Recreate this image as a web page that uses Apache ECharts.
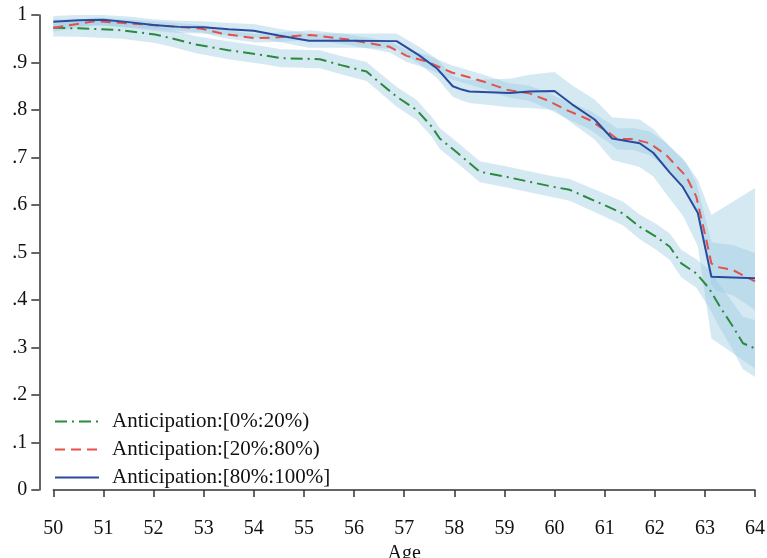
<!DOCTYPE html>
<html>
<head>
<meta charset="utf-8">
<script src="https://cdn.jsdelivr.net/npm/echarts@6/dist/echarts.min.js"></script>
<style>
  html, body { margin: 0; padding: 0; background: #fff; }
  #chart { width: 767px; height: 558px; }
</style>
</head>
<body>
<div id="chart"></div>
<script>
// Share still employed by age, by anticipation group, with confidence bands.

// Anticipation [0%:20%)
const lowAges = [50, 50.5, 51.36, 52.03, 52.36, 52.83, 53.49, 54.16, 54.55, 55.32, 55.72, 56.25, 56.45, 56.85, 57.25, 57.55, 57.71, 58.05, 58.51, 59.05, 59.94, 60.3, 60.84, 61.37, 61.7, 62.03, 62.3, 62.53, 62.83, 63.08, 63.3, 63.56, 63.76, 64];
const lowVals = [0.973, 0.972, 0.968, 0.959, 0.951, 0.938, 0.926, 0.916, 0.909, 0.907, 0.895, 0.881, 0.863, 0.828, 0.800, 0.765, 0.740, 0.711, 0.670, 0.659, 0.639, 0.632, 0.607, 0.582, 0.554, 0.533, 0.512, 0.477, 0.456, 0.425, 0.386, 0.344, 0.309, 0.298];
const lowLo = [0.955, 0.954, 0.950, 0.941, 0.933, 0.920, 0.907, 0.897, 0.890, 0.888, 0.876, 0.861, 0.843, 0.807, 0.779, 0.744, 0.718, 0.689, 0.648, 0.637, 0.617, 0.609, 0.583, 0.557, 0.528, 0.506, 0.484, 0.448, 0.426, 0.385, 0.341, 0.294, 0.254, 0.238];
const lowHi = [0.991, 0.990, 0.986, 0.977, 0.969, 0.956, 0.945, 0.935, 0.928, 0.926, 0.914, 0.901, 0.883, 0.849, 0.821, 0.786, 0.762, 0.733, 0.692, 0.681, 0.661, 0.655, 0.631, 0.607, 0.580, 0.560, 0.540, 0.506, 0.486, 0.465, 0.431, 0.394, 0.364, 0.358];

// Anticipation [20%:80%)
const midAges = [50, 50.83, 51.56, 52.49, 52.96, 53.36, 54.02, 54.5, 55.12, 55.85, 56.71, 57.05, 57.45, 57.95, 58.58, 59.07, 59.5, 59.84, 60.24, 60.7, 61.1, 61.25, 61.57, 61.9, 62.23, 62.63, 62.83, 63.03, 63.13, 63.23, 63.56, 64];
const midVals = [0.973, 0.987, 0.982, 0.975, 0.971, 0.961, 0.951, 0.953, 0.958, 0.949, 0.933, 0.914, 0.902, 0.879, 0.860, 0.842, 0.835, 0.821, 0.800, 0.779, 0.751, 0.739, 0.739, 0.730, 0.705, 0.660, 0.617, 0.526, 0.477, 0.470, 0.463, 0.439];
const midLo = [0.965, 0.979, 0.974, 0.967, 0.963, 0.952, 0.942, 0.943, 0.948, 0.938, 0.921, 0.901, 0.888, 0.864, 0.845, 0.827, 0.819, 0.804, 0.782, 0.759, 0.730, 0.717, 0.716, 0.705, 0.679, 0.632, 0.587, 0.488, 0.432, 0.420, 0.410, 0.379];
const midHi = [0.981, 0.995, 0.990, 0.983, 0.979, 0.970, 0.960, 0.963, 0.968, 0.960, 0.945, 0.927, 0.916, 0.894, 0.875, 0.857, 0.851, 0.838, 0.818, 0.799, 0.772, 0.761, 0.762, 0.755, 0.731, 0.688, 0.647, 0.564, 0.522, 0.520, 0.516, 0.499];

// Anticipation [80%:100%]
const highAges = [50, 50.5, 51, 51.5, 52, 52.5, 53, 53.5, 54, 54.5, 55.1, 56, 56.85, 57.3, 57.65, 57.97, 58.15, 58.3, 59.1, 59.5, 60, 60.35, 60.8, 61.15, 61.7, 61.97, 62.3, 62.56, 62.86, 63.13, 64];
const highVals = [0.986, 0.989, 0.990, 0.985, 0.979, 0.975, 0.974, 0.970, 0.967, 0.957, 0.946, 0.946, 0.945, 0.915, 0.888, 0.850, 0.843, 0.839, 0.836, 0.839, 0.840, 0.812, 0.780, 0.740, 0.730, 0.710, 0.668, 0.638, 0.583, 0.449, 0.446];
const highLo = [0.974, 0.977, 0.978, 0.973, 0.967, 0.962, 0.961, 0.957, 0.953, 0.943, 0.931, 0.931, 0.929, 0.897, 0.868, 0.828, 0.820, 0.815, 0.806, 0.804, 0.800, 0.772, 0.738, 0.695, 0.680, 0.660, 0.613, 0.578, 0.513, 0.319, 0.256];
const highHi = [0.998, 1.000, 1.000, 0.997, 0.991, 0.988, 0.987, 0.983, 0.981, 0.971, 0.961, 0.961, 0.961, 0.933, 0.908, 0.872, 0.866, 0.863, 0.866, 0.874, 0.880, 0.852, 0.822, 0.785, 0.780, 0.760, 0.723, 0.698, 0.653, 0.579, 0.636];

const legendNames = ['Anticipation:[0%:20%)', 'Anticipation:[20%:80%)', 'Anticipation:[80%:100%]'];
const yTicks = ['0', '.1', '.2', '.3', '.4', '.5', '.6', '.7', '.8', '.9', '1'];

const FONT = 'Liberation Serif';
const BAND_FILL = 'rgba(150, 200, 225, 0.40)';

function pairs(xs, ys) {
  return xs.map((x, i) => [x, ys[i]]);
}

// Confidence band drawn as one polygon through the axis scales.
function band(name, ages, lo, hi) {
  return {
    name: name,
    type: 'custom',
    silent: true,
    z: 1,
    data: ages.map((a, i) => [a, lo[i], hi[i]]),
    encode: { x: 0, y: [1, 2] },
    renderItem: function (params, api) {
      if (params.dataIndex !== 0) return null;
      const top = ages.map((a, i) => api.coord([a, hi[i]]));
      const bottom = ages.map((a, i) => api.coord([a, lo[i]])).reverse();
      return {
        type: 'polygon',
        shape: { points: top.concat(bottom) },
        style: { fill: BAND_FILL, stroke: null }
      };
    }
  };
}

function line(name, ages, vals, color, dash) {
  return {
    name: name,
    type: 'line',
    z: 5,
    data: pairs(ages, vals),
    symbol: 'none',
    showSymbol: false,
    smooth: false,
    lineStyle: { color: color, width: 2, type: dash },
    itemStyle: { color: color }
  };
}

const chart = echarts.init(document.getElementById('chart'), null, { renderer: 'canvas' });

chart.setOption({
  animation: false,
  backgroundColor: '#ffffff',
  grid: { left: 53.3, right: 12, top: 15, bottom: 68, containLabel: false, outerBoundsMode: 'none' },
  legend: {
    data: legendNames,
    orient: 'vertical',
    left: 49,
    top: 406,
    itemWidth: 44,
    itemHeight: 12,
    itemGap: 7,
    itemStyle: { color: 'rgba(0,0,0,0)', borderWidth: 0, opacity: 0 },
    textStyle: { fontFamily: FONT, fontSize: 21, color: '#111', padding: [0, 0, 0, 8] }
  },
  xAxis: {
    type: 'value',
    min: 50,
    max: 64,
    interval: 1,
    offset: 13,
    name: 'Age',
    nameLocation: 'middle',
    nameGap: 41,
    nameTextStyle: { fontFamily: FONT, fontSize: 20, color: '#111' },
    axisLine: { show: true, lineStyle: { color: '#333', width: 1.5 } },
    axisTick: { show: true, length: 7, lineStyle: { color: '#333', width: 1.5 } },
    axisLabel: { fontFamily: FONT, fontSize: 20, color: '#111', margin: 16 },
    splitLine: { show: false }
  },
  yAxis: {
    type: 'value',
    min: 0,
    max: 1,
    interval: 0.1,
    offset: 14,
    axisLine: { show: true, lineStyle: { color: '#333', width: 1.5 } },
    axisTick: { show: true, length: 8, lineStyle: { color: '#333', width: 1.5 } },
    axisLabel: {
      fontFamily: FONT, fontSize: 20, color: '#111', margin: 12,
      formatter: function (v) { return yTicks[Math.round(v * 10)]; }
    },
    splitLine: { show: false }
  },
  series: [
    band('band-low', lowAges, lowLo, lowHi),
    band('band-mid', midAges, midLo, midHi),
    band('band-high', highAges, highLo, highHi),
    line(legendNames[0], lowAges, lowVals, '#2b8a3e', [12, 5, 2, 5]),
    line(legendNames[1], midAges, midVals, '#e5504a', [10, 6]),
    line(legendNames[2], highAges, highVals, '#2a4a9e', 'solid')
  ]
});
</script>
</body>
</html>
